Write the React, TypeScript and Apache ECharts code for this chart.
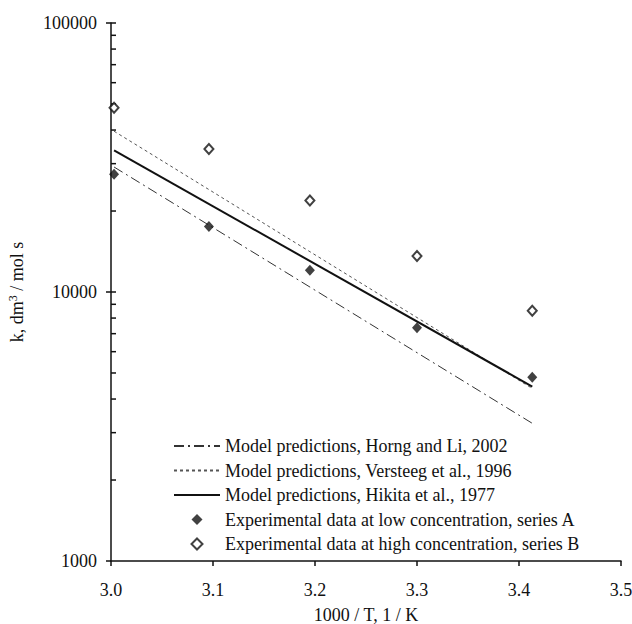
import React, { useEffect, useRef } from "react";
import * as echarts from "echarts";

// 1000/T for T = 333, 323, 313, 303, 293 K
const xExp = [3.003, 3.096, 3.195, 3.3, 3.413];
const seriesA = [27400, 17500, 12050, 7370, 4820];
const seriesB = [48400, 34000, 21900, 13600, 8520];

const xModel = [3.003, 3.413];
const horng = [29150, 3250];
const versteeg = [39600, 4380];
const hikita = [33600, 4450];

const yInnerTicks = [
  2000, 3000, 4000, 5000, 6000, 7000, 8000, 9000, 10000,
  20000, 30000, 40000, 50000, 60000, 70000, 80000, 90000, 100000,
];

const names = [
  "Model predictions, Horng and Li, 2002",
  "Model predictions, Versteeg et al., 1996",
  "Model predictions, Hikita et al., 1977",
  "Experimental data at low concentration, series A",
  "Experimental data at high concentration, series B",
];

const FONT = "'Liberation Serif', 'Times New Roman', Times, serif";
const DIAMOND = "path://M0,-1L1,0L0,1L-1,0Z";
const TXT = "#111";
const FS = 18;

export default function App() {
  const ref = useRef<HTMLDivElement>(null);
  useEffect(() => {
    if (!ref.current) return;
    const chart = echarts.init(ref.current, null, { renderer: "svg" });
    const pair = (xs: number[], ys: number[]) => xs.map((x, i) => [x, ys[i]]);
    const hidden = { color: "rgba(0,0,0,0)", borderWidth: 0, opacity: 0 };
    chart.setOption({
      animation: false,
      backgroundColor: "#fff",
      textStyle: { fontFamily: FONT },
      grid: {
        left: 111,
        right: 11,
        top: 23,
        bottom: 63,
        containLabel: false,
        outerBoundsMode: "none",
      },
      legend: {
        data: [
          { name: names[0], itemStyle: hidden },
          { name: names[1], itemStyle: hidden },
          { name: names[2], itemStyle: hidden },
          { name: names[3], icon: DIAMOND },
          { name: names[4], icon: DIAMOND },
        ],
        orient: "vertical",
        left: 173,
        top: 437,
        padding: 0,
        itemWidth: 46,
        itemHeight: 11,
        itemGap: 6.5,
        symbolKeepAspect: true,
        textStyle: { fontFamily: FONT, fontSize: FS, color: TXT, lineHeight: 18 },
        selectedMode: false,
      },
      xAxis: {
        type: "value",
        min: 3.0,
        max: 3.5,
        interval: 0.1,
        name: "1000 / T, 1 / K",
        nameLocation: "middle",
        nameGap: 45,
        nameTextStyle: { fontFamily: FONT, fontSize: FS, color: TXT },
        axisLine: { lineStyle: { color: "#111", width: 1.5 } },
        axisTick: { length: 5, lineStyle: { color: "#111", width: 1.5 } },
        axisLabel: {
          fontFamily: FONT,
          fontSize: FS,
          color: TXT,
          margin: 20,
          formatter: (v: number) => v.toFixed(1),
        },
        splitLine: { show: false },
      },
      yAxis: {
        type: "log",
        logBase: 10,
        min: 1000,
        max: 100000,
        name: "k, dm{sup|3} / mol s",
        nameLocation: "middle",
        nameGap: 84,
        nameRotate: 90,
        nameTextStyle: {
          fontFamily: FONT,
          fontSize: FS,
          color: TXT,
          rich: {
            sup: { fontFamily: FONT, fontSize: 12, color: TXT, verticalAlign: "top", padding: [0, 0, 8, 0] },
          },
        },
        axisLine: { lineStyle: { color: "#111", width: 1.5 } },
        axisTick: { length: 5, lineStyle: { color: "#111", width: 1.5 } },
        axisLabel: {
          fontFamily: FONT,
          fontSize: FS,
          color: TXT,
          margin: 14,
          formatter: (v: number) => String(Math.round(v)),
        },
        splitLine: { show: false },
      },
      series: [
        {
          name: names[0],
          type: "line",
          data: pair(xModel, horng),
          symbol: "none",
          itemStyle: { color: "#333" },
          lineStyle: { color: "#333", width: 1, type: [10, 4, 2, 4] },
          z: 2,
        },
        {
          name: names[1],
          type: "line",
          data: pair(xModel, versteeg),
          symbol: "none",
          itemStyle: { color: "#555" },
          lineStyle: { color: "#555", width: 1, type: [3, 3] },
          z: 2,
        },
        {
          name: names[2],
          type: "line",
          data: pair(xModel, hikita),
          symbol: "none",
          itemStyle: { color: "#111" },
          lineStyle: { color: "#111", width: 2, type: "solid" },
          z: 3,
        },
        {
          name: names[3],
          type: "scatter",
          data: pair(xExp, seriesA),
          symbol: "diamond",
          symbolSize: [10, 11],
          itemStyle: { color: "#111" },
          z: 5,
        },
        {
          name: names[4],
          type: "scatter",
          data: pair(xExp, seriesB),
          symbol: "diamond",
          symbolSize: [9, 10],
          itemStyle: { color: "#fff", borderColor: "#111", borderWidth: 2 },
          z: 5,
        },
        {
          name: "yInnerTicks",
          type: "custom",
          silent: true,
          clip: false,
          data: yInnerTicks.map((v) => [3.0, v]),
          renderItem: (params: any, api: any) => {
            const p = api.coord([api.value(0), api.value(1)]);
            return {
              type: "line",
              shape: { x1: p[0], y1: p[1], x2: p[0] + 5, y2: p[1] },
              style: { stroke: "#111", lineWidth: 1.5 },
            };
          },
          z: 4,
        },
      ],
    });
    return () => chart.dispose();
  }, []);
  return (
    <div
      ref={ref}
      style={{ position: "fixed", left: 0, top: 0, width: 632, height: 624, background: "#fff" }}
    />
  );
}
